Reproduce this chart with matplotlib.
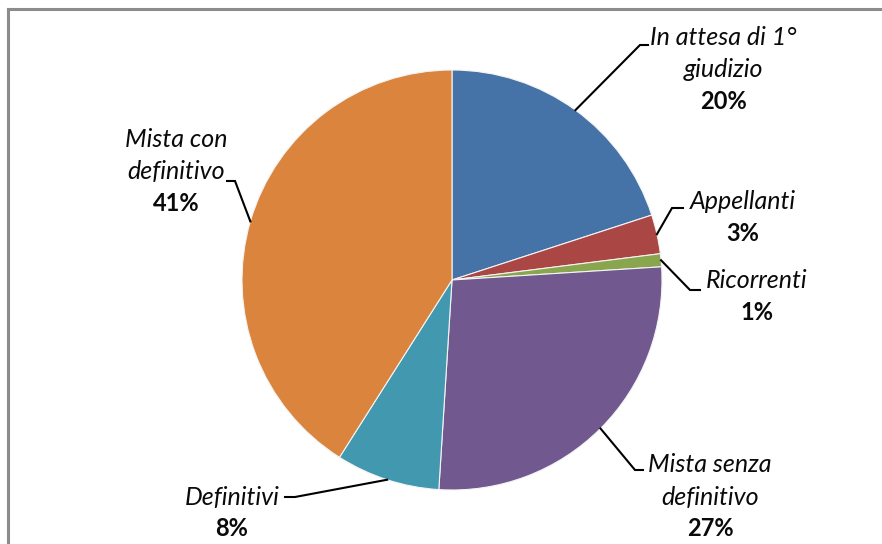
import matplotlib.pyplot as plt
import numpy as np
from matplotlib.lines import Line2D

# data
categories = ["In attesa di 1°\ngiudizio", "Appellanti", "Ricorrenti",
              "Mista senza\ndefinitivo", "Definitivi", "Mista con\ndefinitivo"]
shares = [20, 3, 1, 27, 8, 41]
colors = ["#4572A7", "#AA4643", "#89A54E", "#71588F", "#4198AF", "#DB843D"]

# layout (pixels in the 882x544 canvas): elbow x, elbow y, end x, text centre x, first-line y
CX, CY, R = 452, 280, 210
label_layout = [
    (640, 45, 648, 723, 38),
    (672, 208, 683, 743, 202),
    (690, 290, 700, 757, 281),
    (635, 470, 643, 710, 465),
    (295, 497, 285, 232, 497),
    (235, 181, 227, 176, 140),
]
LINE_STEP = 32

plt.rcParams["font.family"] = ["Lato", "DejaVu Sans"]

W, H = 882, 544
fig = plt.figure(figsize=(W / 100, H / 100), dpi=100)
ax = fig.add_axes([0, 0, 1, 1])

wedges, _ = ax.pie(shares, colors=colors, startangle=90, counterclock=False,
                   radius=1, center=(0, 0), frame=True,
                   wedgeprops=dict(linewidth=0.8, edgecolor="#f4f4f4"))
ax.set_xlim(-CX / R, (W - CX) / R)
ax.set_ylim(-(H - CY) / R, CY / R)
ax.set_aspect("equal")
ax.set_axis_off()


def px(x, y):
    return (x - CX) / R, (CY - y) / R


total = sum(shares)
cum = 0
for cat, val, (ex, ey, endx, tx, ty) in zip(categories, shares, label_layout):
    mid = np.deg2rad(90 - 360 * (cum + val / 2) / total)
    cum += val
    x0, y0 = np.cos(mid), np.sin(mid)
    x1, y1 = px(ex, ey)
    x2, _ = px(endx, ey)
    ax.plot([x0, x1, x2], [y0, y1, y1], color="black", lw=1.5,
            solid_joinstyle="miter", zorder=5)
    lines = cat.split("\n")
    for i, ln in enumerate(lines):
        lx, ly = px(tx, ty + i * LINE_STEP)
        ax.text(lx, ly, ln, ha="center", va="center", fontsize=18,
                style="italic", color="#0a0a0a")
    lx, ly = px(tx, ty + len(lines) * LINE_STEP)
    ax.text(lx, ly, f"{round(100 * val / total)}%", ha="center", va="center",
            fontsize=17, fontweight="bold", color="#0a0a0a")

# chart frame (top and left edges visible)
fig.add_artist(Line2D([8 / W, 1], [1 - 9 / H, 1 - 9 / H], color="#8c8c8c",
                      lw=2.2, transform=fig.transFigure))
fig.add_artist(Line2D([8 / W, 8 / W], [0, 1 - 9 / H], color="#8c8c8c",
                      lw=2.2, transform=fig.transFigure))

fig.savefig("out.png", dpi=100)
